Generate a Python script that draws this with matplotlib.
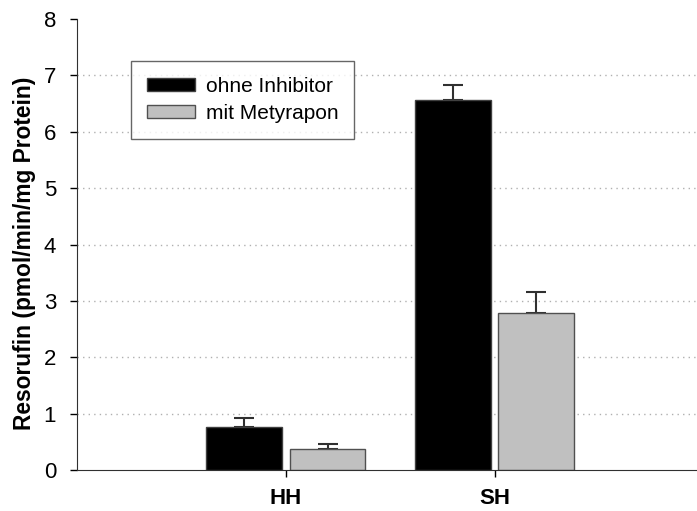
import numpy as np
import matplotlib.pyplot as plt

plt.rcParams['font.family'] = ['Liberation Sans', 'DejaVu Sans']

# Datos
gruppen = ['HH', 'SH']
ohne_inhibitor = [0.77, 6.57]
ohne_inhibitor_err = [0.16, 0.26]
mit_metyrapon = [0.37, 2.78]
mit_metyrapon_err = [0.10, 0.38]
yticks = [0, 1, 2, 3, 4, 5, 6, 7, 8]

x = np.arange(len(gruppen))
breite = 0.363

fig = plt.figure(figsize=(6.97, 5.11), dpi=100)
ax = fig.add_axes([0.1105, 0.0802, 0.8895, 0.8826])

# lineas de grilla punteadas
for y in yticks[1:-1]:
    ax.axhline(y, color='#b0b0b0', linestyle=(0, (1, 3)), linewidth=1, zorder=0)

ax.bar(x - 0.2, ohne_inhibitor, breite, color='black', edgecolor='#404040',
       linewidth=1, label='ohne Inhibitor', zorder=2)
ax.bar(x + 0.2, mit_metyrapon, breite, color='#c0c0c0', edgecolor='#505050',
       linewidth=1, label='mit Metyrapon', zorder=2)
ax.errorbar(x - 0.2, ohne_inhibitor, yerr=[np.zeros(2), ohne_inhibitor_err],
            fmt='none', ecolor='#303030', elinewidth=1.5, capsize=7, capthick=1.5, zorder=1)
ax.errorbar(x + 0.2, mit_metyrapon, yerr=[np.zeros(2), mit_metyrapon_err],
            fmt='none', ecolor='#303030', elinewidth=1.5, capsize=7, capthick=1.5, zorder=1)

ax.set_xlim(-1.0, 1.97)
ax.set_ylim(0, 8)
ax.set_yticks(yticks)
ax.set_xticks(x)
ax.set_xticklabels(gruppen, fontweight='bold', fontsize=16)
ax.tick_params(axis='y', labelsize=16, direction='out', length=5, width=1, pad=10)
ax.tick_params(axis='x', direction='out', length=5, width=1, pad=8)
ax.spines['top'].set_visible(False)
ax.spines['right'].set_visible(False)
ax.spines['left'].set_color('#303030')
ax.spines['bottom'].set_color('#303030')
ax.set_ylabel('Resorufin (pmol/min/mg Protein)', fontweight='bold', fontsize=16.4, labelpad=5.5)
ax.yaxis.label.set_y(0.48)

leg = ax.legend(loc='upper left', bbox_to_anchor=(131 / 697, 1 - 61 / 511),
                bbox_transform=fig.transFigure, fontsize=15,
                frameon=True, fancybox=False, edgecolor='#404040',
                handlelength=2.3, handleheight=0.6, handletextpad=0.55,
                borderpad=0.75, borderaxespad=0, labelspacing=0.4)
leg.get_frame().set_linewidth(1)

plt.savefig('out.png', dpi=100)
